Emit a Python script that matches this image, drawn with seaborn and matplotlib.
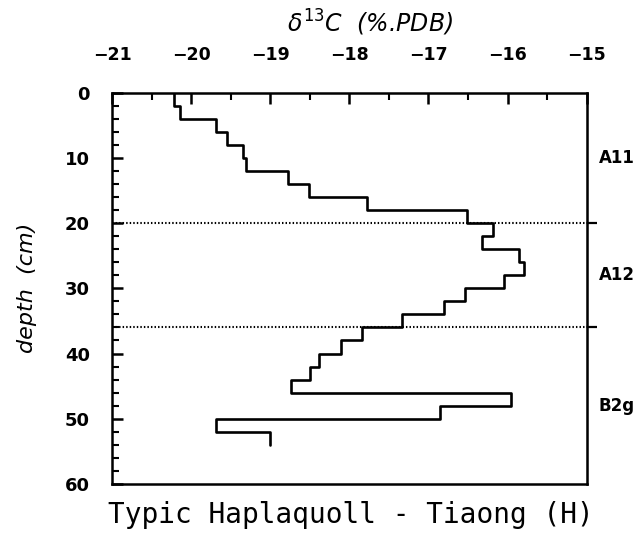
import numpy as np
import pandas as pd
import matplotlib
matplotlib.use('Agg')
import matplotlib.pyplot as plt
import seaborn as sns
from matplotlib.ticker import MultipleLocator

# layer tops / bottoms (cm) and delta13C values (per mil PDB)
layer_top = [0, 2, 4, 6, 8, 10, 12, 14, 16, 18, 20, 22, 24, 26, 28, 30, 32, 34,
             36, 38, 40, 42, 44, 46, 48, 50, 52]
layer_bottom = [2, 4, 6, 8, 10, 12, 14, 16, 18, 20, 22, 24, 26, 28, 30, 32, 34, 36,
                38, 40, 42, 44, 46, 48, 50, 52, 54]
d13c = [-20.22, -20.14, -19.68, -19.55, -19.35, -19.31, -18.77, -18.51, -17.78,
        -16.51, -16.18, -16.32, -15.86, -15.79, -16.05, -16.54, -16.81, -17.34,
        -17.84, -18.11, -18.38, -18.50, -18.74, -15.96, -16.86, -19.69, -19.00]

horizon_bounds = [20, 36]
horizon_names = ['A11', 'A12', 'B2g']
horizon_mid = [10, 28, 48]

sns.set_style('ticks')
plt.rcParams['font.family'] = ['DejaVu Sans']
plt.rcParams.update({'text.color': 'black', 'axes.labelcolor': 'black',
                     'xtick.color': 'black', 'ytick.color': 'black',
                     'axes.edgecolor': 'black'})

# profile as a vertical step line: each layer is a vertical segment
prof = pd.DataFrame({
    'd13c': np.repeat(d13c, 2),
    'depth': np.ravel(np.column_stack([layer_top, layer_bottom])),
})

fig = plt.figure(figsize=(6.44, 5.34), dpi=100)
ax = fig.add_axes([0.174, 0.094, 0.737, 0.732])

sns.lineplot(data=prof, x='d13c', y='depth', sort=False, estimator=None,
             color='black', lw=1.9, ax=ax)

for b in horizon_bounds:
    ax.axhline(b, color='black', lw=1.5, ls=(0, (0.7, 1.0)))

ax.set_xlim(-21, -15)
ax.set_ylim(60, 0)
ax.xaxis.tick_top()
ax.xaxis.set_major_locator(MultipleLocator(1))
ax.xaxis.set_minor_locator(MultipleLocator(0.5))
ax.yaxis.set_major_locator(MultipleLocator(10))
ax.yaxis.set_minor_locator(MultipleLocator(2))
ax.tick_params(axis='x', which='major', direction='in', length=8, width=1.8,
               top=True, bottom=False, pad=21, labelsize=12.5)
ax.tick_params(axis='x', which='minor', direction='in', length=5, width=1.5,
               top=True, bottom=False)
ax.tick_params(axis='y', which='major', direction='in', length=8, width=1.8,
               left=True, right=False, pad=16, labelsize=13)
ax.tick_params(axis='y', which='minor', direction='in', length=5, width=1.5,
               left=True, right=False)
for lab in ax.get_xticklabels() + ax.get_yticklabels():
    lab.set_fontweight('bold')
ax.set_xticklabels([f'\u2212{abs(int(v))}' for v in ax.get_xticks()])

for s in ax.spines.values():
    s.set_visible(True)
    s.set_linewidth(1.8)

# outward ticks on the right at horizon boundaries
ax2 = ax.secondary_yaxis('right')
ax2.set_yticks(horizon_bounds)
ax2.tick_params(direction='out', length=7, width=1.6, labelright=False)

for name, m in zip(horizon_names, horizon_mid):
    ax.text(1.025, m, name, transform=ax.get_yaxis_transform(),
            fontsize=12, fontweight='bold', va='center', ha='left')

ax.set_xlabel('')
ax.set_ylabel('depth  (cm)', fontsize=16, style='italic', labelpad=20)

fig.text(0.575, 0.958, r'$\mathit{\delta}^{13}$C  (%.PDB)', fontsize=17,
         style='italic', ha='center', va='center')
fig.text(0.545, 0.035, 'Typic Haplaquoll - Tiaong (H)', fontsize=20,
         family='DejaVu Sans Mono', ha='center', va='center')

fig.savefig('out.png', dpi=100)
